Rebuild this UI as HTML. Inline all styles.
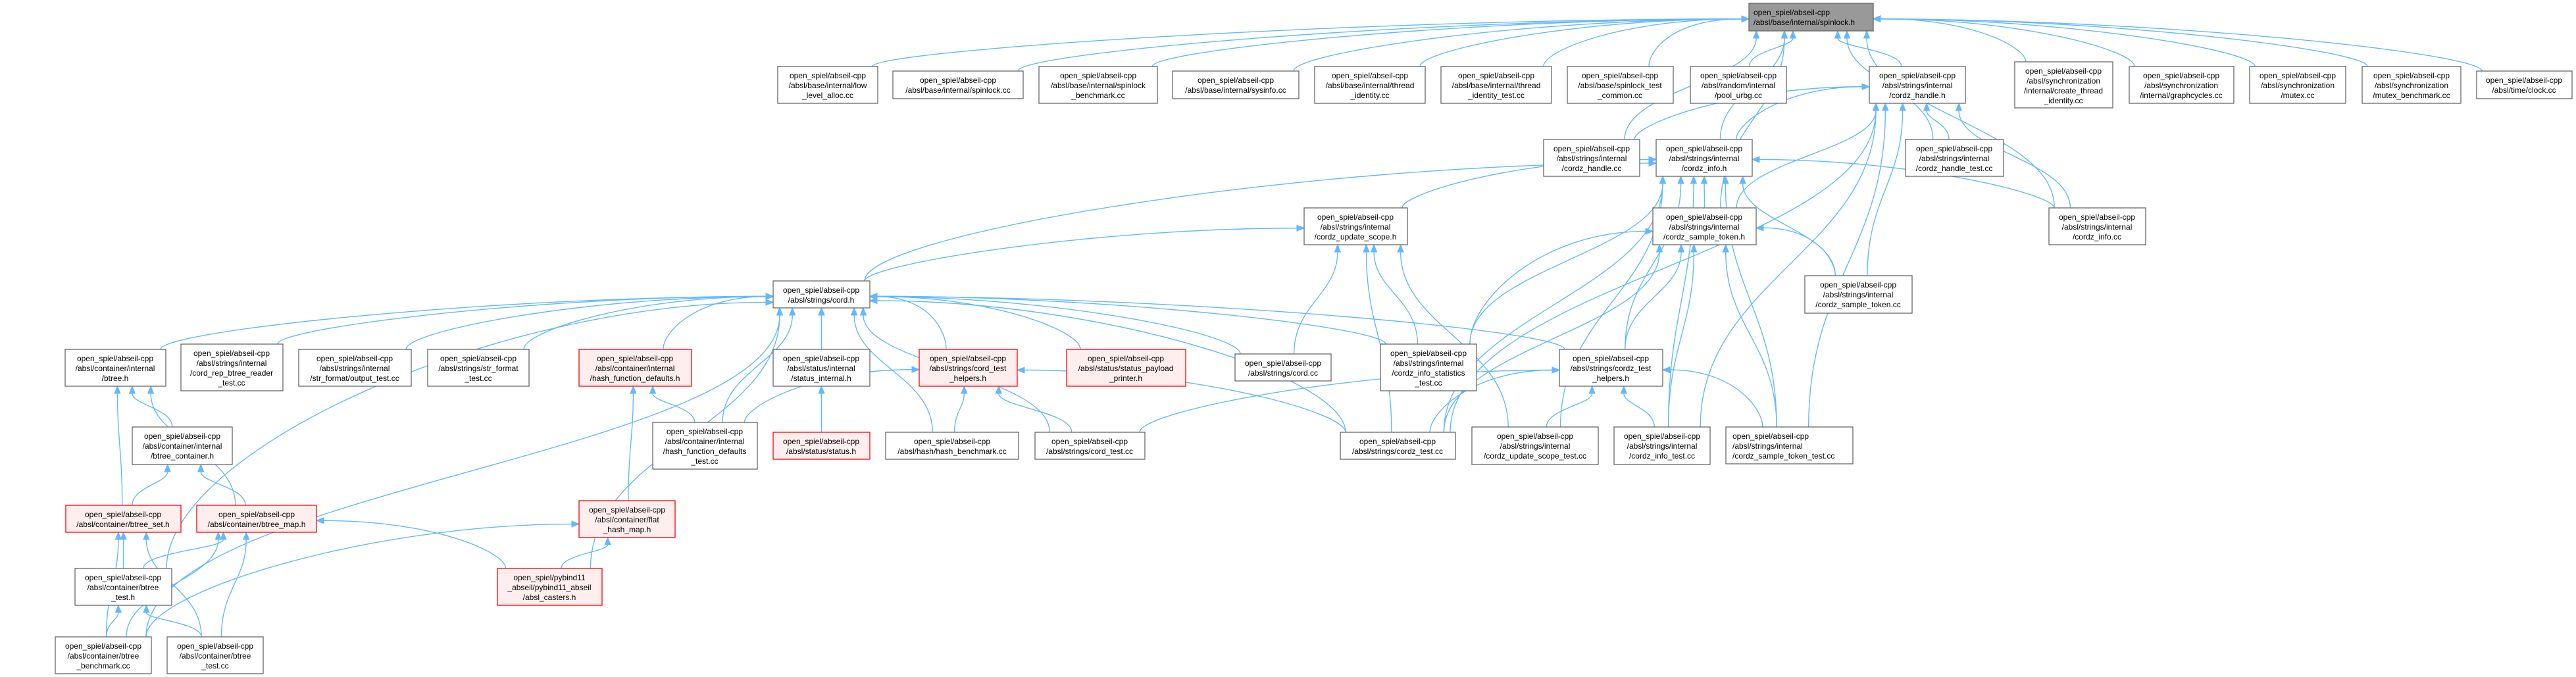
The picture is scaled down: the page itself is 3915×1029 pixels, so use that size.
<!DOCTYPE html>
<html><head><meta charset="utf-8"><style>
html,body{margin:0;padding:0;background:#fff;}
svg{display:block;}
text{font-family:"Liberation Sans",sans-serif;font-size:12px;fill:#000;}
</style></head><body>
<svg id="g" width="3915" height="1029" viewBox="0 0 3915 1029" xmlns="http://www.w3.org/2000/svg">
<rect width="3915" height="1029" fill="#fff"/>
<g id="edges" fill="none" stroke="#63b8ff" stroke-width="1.4"></g>
<g id="heads" fill="#63b8ff" stroke="#63b8ff" stroke-width="1"></g>
<g id="nodes" stroke-width="1.3">
<rect x="2658" y="5" width="189" height="42" fill="#999" stroke="#666"/><text x="2665" y="23">open_spiel/abseil-cpp</text><text x="2665" y="38">/absl/base/internal/spinlock.h</text>

<rect x="1182" y="101" width="152" height="56" fill="#fff" stroke="#666"/><text x="1258" y="119" text-anchor="middle">open_spiel/abseil-cpp</text><text x="1258" y="134" text-anchor="middle">/absl/base/internal/low</text><text x="1258" y="149" text-anchor="middle">_level_alloc.cc</text>
<rect x="1357" y="108" width="198" height="42" fill="#fff" stroke="#666"/><text x="1456" y="126" text-anchor="middle">open_spiel/abseil-cpp</text><text x="1456" y="141" text-anchor="middle">/absl/base/internal/spinlock.cc</text>
<rect x="1579" y="101" width="180" height="56" fill="#fff" stroke="#666"/><text x="1669" y="119" text-anchor="middle">open_spiel/abseil-cpp</text><text x="1669" y="134" text-anchor="middle">/absl/base/internal/spinlock</text><text x="1669" y="149" text-anchor="middle">_benchmark.cc</text>
<rect x="1782" y="108" width="192" height="42" fill="#fff" stroke="#666"/><text x="1878" y="126" text-anchor="middle">open_spiel/abseil-cpp</text><text x="1878" y="141" text-anchor="middle">/absl/base/internal/sysinfo.cc</text>
<rect x="1998" y="101" width="168" height="56" fill="#fff" stroke="#666"/><text x="2082" y="119" text-anchor="middle">open_spiel/abseil-cpp</text><text x="2082" y="134" text-anchor="middle">/absl/base/internal/thread</text><text x="2082" y="149" text-anchor="middle">_identity.cc</text>
<rect x="2190" y="101" width="168" height="56" fill="#fff" stroke="#666"/><text x="2274" y="119" text-anchor="middle">open_spiel/abseil-cpp</text><text x="2274" y="134" text-anchor="middle">/absl/base/internal/thread</text><text x="2274" y="149" text-anchor="middle">_identity_test.cc</text>
<rect x="2382" y="101" width="161" height="56" fill="#fff" stroke="#666"/><text x="2462" y="119" text-anchor="middle">open_spiel/abseil-cpp</text><text x="2462" y="134" text-anchor="middle">/absl/base/spinlock_test</text><text x="2462" y="149" text-anchor="middle">_common.cc</text>
<rect x="2569" y="101" width="146" height="56" fill="#fff" stroke="#666"/><text x="2642" y="119" text-anchor="middle">open_spiel/abseil-cpp</text><text x="2642" y="134" text-anchor="middle">/absl/random/internal</text><text x="2642" y="149" text-anchor="middle">/pool_urbg.cc</text>
<rect x="2841" y="101" width="146" height="56" fill="#fff" stroke="#666"/><text x="2914" y="119" text-anchor="middle">open_spiel/abseil-cpp</text><text x="2914" y="134" text-anchor="middle">/absl/strings/internal</text><text x="2914" y="149" text-anchor="middle">/cordz_handle.h</text>
<rect x="3062" y="94" width="149" height="70" fill="#fff" stroke="#666"/><text x="3136" y="112" text-anchor="middle">open_spiel/abseil-cpp</text><text x="3136" y="127" text-anchor="middle">/absl/synchronization</text><text x="3136" y="142" text-anchor="middle">/internal/create_thread</text><text x="3136" y="157" text-anchor="middle">_identity.cc</text>
<rect x="3236" y="101" width="159" height="56" fill="#fff" stroke="#666"/><text x="3315" y="119" text-anchor="middle">open_spiel/abseil-cpp</text><text x="3315" y="134" text-anchor="middle">/absl/synchronization</text><text x="3315" y="149" text-anchor="middle">/internal/graphcycles.cc</text>
<rect x="3419" y="101" width="146" height="56" fill="#fff" stroke="#666"/><text x="3492" y="119" text-anchor="middle">open_spiel/abseil-cpp</text><text x="3492" y="134" text-anchor="middle">/absl/synchronization</text><text x="3492" y="149" text-anchor="middle">/mutex.cc</text>
<rect x="3590" y="101" width="150" height="56" fill="#fff" stroke="#666"/><text x="3665" y="119" text-anchor="middle">open_spiel/abseil-cpp</text><text x="3665" y="134" text-anchor="middle">/absl/synchronization</text><text x="3665" y="149" text-anchor="middle">/mutex_benchmark.cc</text>
<rect x="3764" y="108" width="145" height="42" fill="#fff" stroke="#666"/><text x="3836" y="126" text-anchor="middle">open_spiel/abseil-cpp</text><text x="3836" y="141" text-anchor="middle">/absl/time/clock.cc</text>

<rect x="2346" y="212" width="146" height="56" fill="#fff" stroke="#666"/><text x="2419" y="230" text-anchor="middle">open_spiel/abseil-cpp</text><text x="2419" y="245" text-anchor="middle">/absl/strings/internal</text><text x="2419" y="260" text-anchor="middle">/cordz_handle.cc</text>
<rect x="2517" y="212" width="146" height="56" fill="#fff" stroke="#666"/><text x="2590" y="230" text-anchor="middle">open_spiel/abseil-cpp</text><text x="2590" y="245" text-anchor="middle">/absl/strings/internal</text><text x="2590" y="260" text-anchor="middle">/cordz_info.h</text>
<rect x="2896" y="212" width="149" height="56" fill="#fff" stroke="#666"/><text x="2970" y="230" text-anchor="middle">open_spiel/abseil-cpp</text><text x="2970" y="245" text-anchor="middle">/absl/strings/internal</text><text x="2970" y="260" text-anchor="middle">/cordz_handle_test.cc</text>

<rect x="1982" y="316" width="157" height="56" fill="#fff" stroke="#666"/><text x="2060" y="334" text-anchor="middle">open_spiel/abseil-cpp</text><text x="2060" y="349" text-anchor="middle">/absl/strings/internal</text><text x="2060" y="364" text-anchor="middle">/cordz_update_scope.h</text>
<rect x="2512" y="316" width="157" height="56" fill="#fff" stroke="#666"/><text x="2590" y="334" text-anchor="middle">open_spiel/abseil-cpp</text><text x="2590" y="349" text-anchor="middle">/absl/strings/internal</text><text x="2590" y="364" text-anchor="middle">/cordz_sample_token.h</text>
<rect x="3114" y="316" width="147" height="56" fill="#fff" stroke="#666"/><text x="3187" y="334" text-anchor="middle">open_spiel/abseil-cpp</text><text x="3187" y="349" text-anchor="middle">/absl/strings/internal</text><text x="3187" y="364" text-anchor="middle">/cordz_info.cc</text>
<rect x="2743" y="419" width="163" height="57" fill="#fff" stroke="#666"/><text x="2824" y="437" text-anchor="middle">open_spiel/abseil-cpp</text><text x="2824" y="452" text-anchor="middle">/absl/strings/internal</text><text x="2824" y="467" text-anchor="middle">/cordz_sample_token.cc</text>

<rect x="1175" y="427" width="147" height="41" fill="#fff" stroke="#666"/><text x="1248" y="445" text-anchor="middle">open_spiel/abseil-cpp</text><text x="1248" y="460" text-anchor="middle">/absl/strings/cord.h</text>

<rect x="99" y="531" width="153" height="56" fill="#fff" stroke="#666"/><text x="175" y="549" text-anchor="middle">open_spiel/abseil-cpp</text><text x="175" y="564" text-anchor="middle">/absl/container/internal</text><text x="175" y="579" text-anchor="middle">/btree.h</text>
<rect x="275" y="523" width="155" height="71" fill="#fff" stroke="#666"/><text x="352" y="541" text-anchor="middle">open_spiel/abseil-cpp</text><text x="352" y="556" text-anchor="middle">/absl/strings/internal</text><text x="352" y="571" text-anchor="middle">/cord_rep_btree_reader</text><text x="352" y="586" text-anchor="middle">_test.cc</text>
<rect x="454" y="531" width="171" height="56" fill="#fff" stroke="#666"/><text x="539" y="549" text-anchor="middle">open_spiel/abseil-cpp</text><text x="539" y="564" text-anchor="middle">/absl/strings/internal</text><text x="539" y="579" text-anchor="middle">/str_format/output_test.cc</text>
<rect x="650" y="531" width="154" height="56" fill="#fff" stroke="#666"/><text x="727" y="549" text-anchor="middle">open_spiel/abseil-cpp</text><text x="727" y="564" text-anchor="middle">/absl/strings/str_format</text><text x="727" y="579" text-anchor="middle">_test.cc</text>
<rect x="880" y="531" width="171" height="56" fill="#fee" stroke="#f00"/><text x="965" y="549" text-anchor="middle">open_spiel/abseil-cpp</text><text x="965" y="564" text-anchor="middle">/absl/container/internal</text><text x="965" y="579" text-anchor="middle">/hash_function_defaults.h</text>
<rect x="1175" y="531" width="147" height="56" fill="#fff" stroke="#666"/><text x="1248" y="549" text-anchor="middle">open_spiel/abseil-cpp</text><text x="1248" y="564" text-anchor="middle">/absl/status/internal</text><text x="1248" y="579" text-anchor="middle">/status_internal.h</text>
<rect x="1397" y="531" width="149" height="56" fill="#fee" stroke="#f00"/><text x="1471" y="549" text-anchor="middle">open_spiel/abseil-cpp</text><text x="1471" y="564" text-anchor="middle">/absl/strings/cord_test</text><text x="1471" y="579" text-anchor="middle">_helpers.h</text>
<rect x="1621" y="531" width="181" height="56" fill="#fee" stroke="#f00"/><text x="1711" y="549" text-anchor="middle">open_spiel/abseil-cpp</text><text x="1711" y="564" text-anchor="middle">/absl/status/status_payload</text><text x="1711" y="579" text-anchor="middle">_printer.h</text>
<rect x="1877" y="538" width="146" height="41" fill="#fff" stroke="#666"/><text x="1950" y="556" text-anchor="middle">open_spiel/abseil-cpp</text><text x="1950" y="571" text-anchor="middle">/absl/strings/cord.cc</text>
<rect x="2098" y="523" width="146" height="71" fill="#fff" stroke="#666"/><text x="2171" y="541" text-anchor="middle">open_spiel/abseil-cpp</text><text x="2171" y="556" text-anchor="middle">/absl/strings/internal</text><text x="2171" y="571" text-anchor="middle">/cordz_info_statistics</text><text x="2171" y="586" text-anchor="middle">_test.cc</text>
<rect x="2370" y="531" width="157" height="56" fill="#fff" stroke="#666"/><text x="2448" y="549" text-anchor="middle">open_spiel/abseil-cpp</text><text x="2448" y="564" text-anchor="middle">/absl/strings/cordz_test</text><text x="2448" y="579" text-anchor="middle">_helpers.h</text>

<rect x="201" y="649" width="152" height="57" fill="#fff" stroke="#666"/><text x="277" y="667" text-anchor="middle">open_spiel/abseil-cpp</text><text x="277" y="682" text-anchor="middle">/absl/container/internal</text><text x="277" y="697" text-anchor="middle">/btree_container.h</text>
<rect x="992" y="642" width="159" height="71" fill="#fff" stroke="#666"/><text x="1071" y="660" text-anchor="middle">open_spiel/abseil-cpp</text><text x="1071" y="675" text-anchor="middle">/absl/container/internal</text><text x="1071" y="690" text-anchor="middle">/hash_function_defaults</text><text x="1071" y="705" text-anchor="middle">_test.cc</text>
<rect x="1175" y="657" width="147" height="41" fill="#fee" stroke="#f00"/><text x="1248" y="675" text-anchor="middle">open_spiel/abseil-cpp</text><text x="1248" y="690" text-anchor="middle">/absl/status/status.h</text>
<rect x="1346" y="657" width="202" height="41" fill="#fff" stroke="#666"/><text x="1447" y="675" text-anchor="middle">open_spiel/abseil-cpp</text><text x="1447" y="690" text-anchor="middle">/absl/hash/hash_benchmark.cc</text>
<rect x="1573" y="657" width="167" height="41" fill="#fff" stroke="#666"/><text x="1656" y="675" text-anchor="middle">open_spiel/abseil-cpp</text><text x="1656" y="690" text-anchor="middle">/absl/strings/cord_test.cc</text>
<rect x="2037" y="657" width="175" height="41" fill="#fff" stroke="#666"/><text x="2124" y="675" text-anchor="middle">open_spiel/abseil-cpp</text><text x="2124" y="690" text-anchor="middle">/absl/strings/cordz_test.cc</text>
<rect x="2237" y="649" width="192" height="57" fill="#fff" stroke="#666"/><text x="2333" y="667" text-anchor="middle">open_spiel/abseil-cpp</text><text x="2333" y="682" text-anchor="middle">/absl/strings/internal</text><text x="2333" y="697" text-anchor="middle">/cordz_update_scope_test.cc</text>
<rect x="2453" y="649" width="146" height="57" fill="#fff" stroke="#666"/><text x="2526" y="667" text-anchor="middle">open_spiel/abseil-cpp</text><text x="2526" y="682" text-anchor="middle">/absl/strings/internal</text><text x="2526" y="697" text-anchor="middle">/cordz_info_test.cc</text>
<rect x="2623" y="649" width="193" height="56" fill="#fff" stroke="#666"/><text x="2633" y="667">open_spiel/abseil-cpp</text><text x="2633" y="682">/absl/strings/internal</text><text x="2633" y="697">/cordz_sample_token_test.cc</text>

<rect x="100" y="768" width="175" height="41" fill="#fee" stroke="#f00"/><text x="187" y="786" text-anchor="middle">open_spiel/abseil-cpp</text><text x="187" y="801" text-anchor="middle">/absl/container/btree_set.h</text>
<rect x="299" y="768" width="182" height="41" fill="#fee" stroke="#f00"/><text x="390" y="786" text-anchor="middle">open_spiel/abseil-cpp</text><text x="390" y="801" text-anchor="middle">/absl/container/btree_map.h</text>
<rect x="880" y="761" width="146" height="56" fill="#fee" stroke="#f00"/><text x="953" y="779" text-anchor="middle">open_spiel/abseil-cpp</text><text x="953" y="794" text-anchor="middle">/absl/container/flat</text><text x="953" y="809" text-anchor="middle">_hash_map.h</text>
<rect x="114" y="864" width="147" height="56" fill="#fff" stroke="#666"/><text x="187" y="882" text-anchor="middle">open_spiel/abseil-cpp</text><text x="187" y="897" text-anchor="middle">/absl/container/btree</text><text x="187" y="912" text-anchor="middle">_test.h</text>
<rect x="756" y="864" width="159" height="56" fill="#fee" stroke="#f00"/><text x="835" y="882" text-anchor="middle">open_spiel/pybind11</text><text x="835" y="897" text-anchor="middle">_abseil/pybind11_abseil</text><text x="835" y="912" text-anchor="middle">/absl_casters.h</text>
<rect x="84" y="968" width="146" height="56" fill="#fff" stroke="#666"/><text x="157" y="986" text-anchor="middle">open_spiel/abseil-cpp</text><text x="157" y="1001" text-anchor="middle">/absl/container/btree</text><text x="157" y="1016" text-anchor="middle">_benchmark.cc</text>
<rect x="254" y="968" width="146" height="56" fill="#fff" stroke="#666"/><text x="327" y="986" text-anchor="middle">open_spiel/abseil-cpp</text><text x="327" y="1001" text-anchor="middle">/absl/container/btree</text><text x="327" y="1016" text-anchor="middle">_test.cc</text>
</g>
</svg>
<script>
var N={
spin:[2658,5,2847,47],lla:[1182,101,1334,157],spcc:[1357,108,1555,150],spb:[1579,101,1759,157],sys:[1782,108,1974,150],
ti:[1998,101,2166,157],tit:[2190,101,2358,157],stc:[2382,101,2543,157],pool:[2569,101,2715,157],chh:[2841,101,2987,157],
cti:[3062,94,3211,164],gc:[3236,101,3395,157],mx:[3419,101,3565,157],mxb:[3590,101,3740,157],clk:[3764,108,3909,150],
chcc:[2346,212,2492,268],cih:[2517,212,2663,268],cht:[2896,212,3045,268],cus:[1982,316,2139,372],cst:[2512,316,2669,372],
cicc:[3114,316,3261,372],stcc:[2743,419,2906,476],cord:[1175,427,1322,468],btree:[99,531,252,587],crbr:[275,523,430,594],
out:[454,531,625,587],sft:[650,531,804,587],hfd:[880,531,1051,587],sti:[1175,531,1322,587],cth:[1397,531,1546,587],
spp:[1621,531,1802,587],cordcc:[1877,538,2023,579],cist:[2098,523,2244,594],czth:[2370,531,2527,587],bc:[201,649,353,706],
hfdt:[992,642,1151,713],status:[1175,657,1322,698],hb:[1346,657,1548,698],ct:[1573,657,1740,698],czt:[2037,657,2212,698],
cust:[2237,649,2429,706],cit:[2453,649,2599,706],cstt:[2623,649,2816,705],bset:[100,768,275,809],bmap:[299,768,481,809],
fhm:[880,761,1026,817],bth:[114,864,261,920],pyb:[756,864,915,920],bbm:[84,968,230,1024],btc:[254,968,400,1024]};
var E=[
['lla','spin'],['spcc','spin'],['spb','spin'],['sys','spin'],['ti','spin'],['tit','spin'],['stc','spin'],['pool','spin'],['chh','spin'],
['cti','spin'],['gc','spin'],['mx','spin'],['mxb','spin'],['clk','spin'],['chcc','spin'],['cih','spin'],['cicc','spin'],['cst','spin'],['cht','spin'],
['chcc','chh'],['cih','chh'],['cht','chh'],['cst','chh'],['stcc','chh'],['cicc','chh'],['cit','chh'],['cstt','chh'],['czt','chh'],
['cord','cih'],['cus','cih'],['cst','cih'],['cicc','cih'],['cist','cih'],['czth','cih'],['czt','cih'],['cust','cih'],['cit','cih'],['cstt','cih'],['stcc','cih'],
['cord','cus'],['cordcc','cus'],['cist','cus'],['czt','cus'],['cust','cus'],
['stcc','cst'],['czth','cst'],['cist','cst'],['czt','cst'],['cit','cst'],['cstt','cst'],
['btree','cord'],['crbr','cord'],['out','cord'],['sft','cord'],['hfd','cord'],['hfdt','cord'],['sti','cord'],['status','cord'],['cth','cord'],
['spp','cord'],['cordcc','cord'],['cist','cord'],['czth','cord'],['hb','cord'],['ct','cord'],['czt','cord'],['bbm','cord'],['bth','cord'],['pyb','cord'],
['hb','cth'],['ct','cth'],['czt','cth'],['hfdt','cth'],
['ct','czth'],['czt','czth'],['cust','czth'],['cit','czth'],['cstt','czth'],
['status','sti'],['hfdt','hfd'],['fhm','hfd'],
['bc','btree'],['bset','btree'],['bmap','btree'],['bset','bc'],['bmap','bc'],
['bth','bset'],['bbm','bset'],['btc','bset'],['bth','bmap'],['bbm','bmap'],['btc','bmap'],['pyb','bmap'],
['pyb','fhm'],['bbm','fhm'],['bbm','bth'],['btc','bth']];
var eg=document.getElementById('edges'),hg=document.getElementById('heads'),ns='http://www.w3.org/2000/svg';
E.forEach(function(e){
 var s=N[e[0]],t=N[e[1]];
 var scx=(s[0]+s[2])/2,tcx=(t[0]+t[2])/2,tw=t[2]-t[0],sw=s[2]-s[0];
 var sx=scx+Math.max(-sw/2+8,Math.min(sw/2-8,(tcx-scx)*0.15));
 var sy=s[1];
 var tx,ty,c2x,c2y,side=0;
 var dx=scx-tcx, dy=sy-t[3];
 if(Math.abs(dx)>2.2*Math.max(dy,1)+tw/2){
   side=dx<0?-1:1; tx=side<0?t[0]:t[2]; ty=(t[1]+t[3])/2+Math.max(-12,Math.min(12,dy*0.05));
   c2x=tx+side*Math.abs(dx)*0.4; c2y=ty;
 } else {
   tx=tcx+Math.max(-tw/2+10,Math.min(tw/2-10,dx*0.25)); ty=t[3];
   c2x=tx; c2y=ty+dy*0.45;
 }
 var c1x=sx,c1y=sy-Math.max(dy,20)*0.45;
 // shorten for arrowhead
 var vx=tx-c2x,vy=ty-c2y,L=Math.sqrt(vx*vx+vy*vy)||1;vx/=L;vy/=L;
 var ex=tx-vx*11,ey=ty-vy*11;
 var p=document.createElementNS(ns,'path');
 p.setAttribute('d','M'+sx+','+sy+' C'+c1x+','+c1y+' '+(c2x)+','+(c2y)+' '+ex+','+ey);
 eg.appendChild(p);
 var px=-vy,py=vx;
 var h=document.createElementNS(ns,'polygon');
 h.setAttribute('points',tx+','+ty+' '+(ex+px*4.5)+','+(ey+py*4.5)+' '+(ex-px*4.5)+','+(ey-py*4.5));
 hg.appendChild(h);
});
</script>
</body></html>
